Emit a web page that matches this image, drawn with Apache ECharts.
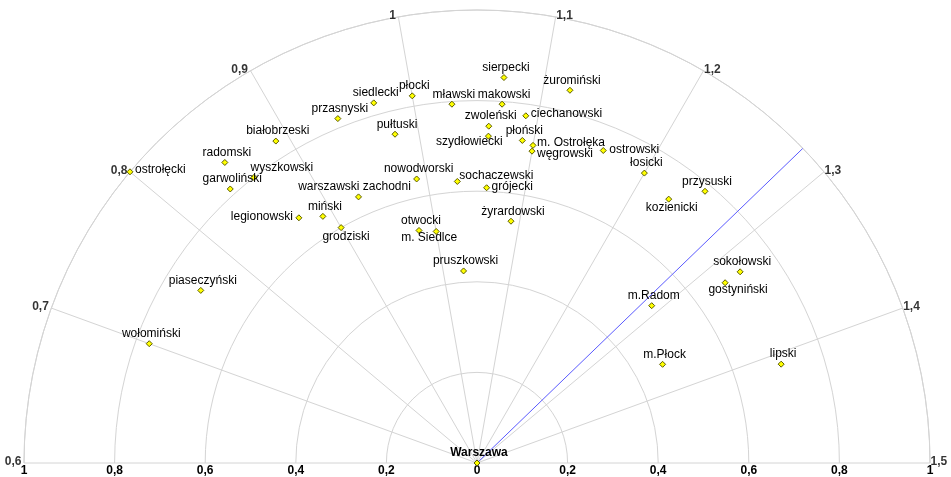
<!DOCTYPE html>
<html>
<head>
<meta charset="utf-8">
<script src="https://cdn.jsdelivr.net/npm/echarts@6/dist/echarts.min.js"></script>
<style>
  html, body { margin: 0; padding: 0; background: #fff; }
  #chart { width: 951px; height: 477px; }
</style>
</head>
<body>
<div id="chart"></div>
<script>
// Districts of the Mazowieckie voivodeship, placed on a half-polar diagram:
// angle = index value (0,6 … 1,5), radius = distance from Warszawa (0 … 1).
const districts = [
  'ostrołęcki', 'białobrzeski', 'radomski', 'wyszkowski', 'garwoliński',
  'legionowski', 'miński', 'grodziski', 'przasnyski', 'sierpecki',
  'żuromiński', 'siedlecki', 'płocki', 'mławski', 'makowski',
  'ciechanowski', 'zwoleński', 'szydłowiecki', 'pułtuski', 'płoński',
  'm. Ostrołęka', 'węgrowski', 'ostrowski', 'łosicki', 'nowodworski',
  'sochaczewski', 'grójecki', 'warszawski zachodni', 'otwocki', 'm. Siedlce',
  'żyrardowski', 'pruszkowski', 'przysuski', 'kozienicki', 'piaseczyński',
  'wołomiński', 'sokołowski', 'gostyniński', 'm.Radom', 'm.Płock',
  'lipski', 'Warszawa'
];
const angleValue = [
  0.80, 0.89, 0.85, 0.86, 0.84,
  0.87, 0.89, 0.90, 0.94, 1.07,
  1.12, 0.97, 1.00, 1.03, 1.07,
  1.09, 1.06, 1.06, 0.98, 1.09,
  1.10, 1.10, 1.16, 1.20, 0.99,
  1.03, 1.06, 0.93, 0.98, 1.00,
  1.09, 1.03, 1.25, 1.23, 0.76,
  0.70, 1.32, 1.32, 1.29, 1.36,
  1.41, 1.00
];
const radiusValue = [
  1.000, 0.838, 0.866, 0.800, 0.814,
  0.669, 0.642, 0.600, 0.820, 0.853,
  0.848, 0.827, 0.823, 0.794, 0.794,
  0.774, 0.744, 0.722, 0.748, 0.719,
  0.712, 0.699, 0.744, 0.739, 0.641,
  0.623, 0.608, 0.643, 0.529, 0.519,
  0.539, 0.425, 0.783, 0.720, 0.719,
  0.770, 0.718, 0.677, 0.519, 0.464,
  0.706, 0
];
// Reference direction drawn as a blue ray
const referenceAngle = 1.28;
// Tick values
const angleTicks = [0.6, 0.7, 0.8, 0.9, 1.0, 1.1, 1.2, 1.3, 1.4, 1.5];
const radiusTicks = [-1, -0.8, -0.6, -0.4, -0.2, 0, 0.2, 0.4, 0.6, 0.8, 1];

// Label placement for each district: [text align, x shift, y shift]
const labelPlacement = {
  'ostrołęcki': ['left', 5, -2],
  'ciechanowski': ['left', 5, -2],
  'm. Ostrołęka': ['left', 4, -3],
  'węgrowski': ['left', 5, 3],
  'ostrowski': ['left', 6, -1],
  'sochaczewski': ['left', 2, -6],
  'grójecki': ['left', 5, -1],
  'legionowski': ['right', -6, -1],
  'wyszkowski': ['center', 28, -10],
  'warszawski zachodni': ['center', -4, -10],
  'grodziski': ['center', 5, 9],
  'kozienicki': ['center', 3, 9],
  'gostyniński': ['center', 13, 7],
  'szydłowiecki': ['center', -19, 6],
  'm. Siedlce': ['center', -7, 6]
};

const FONT = '"Liberation Sans", Arial, Helvetica, sans-serif';
const GRID = '#d4d4d4';
const fmt = v => {
  const s = String(+Math.abs(v).toFixed(1));
  return s.replace('.', ',');
};

const pointData = districts.map((name, i) => {
  const p = labelPlacement[name] || ['center', 2, -10];
  const item = {
    name: name,
    value: [radiusValue[i], angleValue[i]],
    label: { align: p[0], offset: [p[1], p[2]] }
  };
  if (name === 'Warszawa') item.label.fontWeight = 'bold';
  return item;
});

const tickData = angleTicks.map(v => ({
  value: [1, v],
  label: v < 1.05
    ? { position: 'left', distance: 2 }
    : { position: 'right', distance: 0 }
}));

const chart = echarts.init(document.getElementById('chart'), null, { renderer: 'canvas' });
chart.setOption({
  backgroundColor: '#ffffff',
  animation: false,
  polar: { center: [477, 463], radius: 453 },
  angleAxis: {
    type: 'value',
    min: 0.6,
    max: 1.5,
    interval: 0.1,
    startAngle: 180,
    endAngle: 0,
    clockwise: true,
    axisLine: { show: true, lineStyle: { color: GRID, width: 1 } },
    axisTick: { show: false },
    axisLabel: { show: false },
    splitLine: { show: true, lineStyle: { color: GRID, width: 1 } }
  },
  radiusAxis: {
    type: 'value',
    min: 0,
    max: 1,
    interval: 0.2,
    axisLine: { show: false },
    axisTick: { show: false },
    axisLabel: { show: false },
    splitLine: { show: true, lineStyle: { color: GRID, width: 1 } }
  },
  grid: { left: 24, top: 10, width: 906, height: 453 },
  xAxis: {
    type: 'value',
    min: radiusTicks[0],
    max: radiusTicks[radiusTicks.length - 1],
    interval: 0.2,
    axisLine: { show: false },
    axisTick: { show: false },
    splitLine: { show: false },
    axisLabel: {
      show: true,
      showMinLabel: true,
      showMaxLabel: true,
      margin: 2,
      color: '#000',
      fontFamily: FONT,
      fontSize: 12,
      fontWeight: 'bold',
      formatter: fmt
    }
  },
  yAxis: { type: 'value', show: false, min: 0, max: 1 },
  series: [
    {
      type: 'line',
      coordinateSystem: 'polar',
      data: [[0, referenceAngle], [1, referenceAngle]],
      symbol: 'none',
      silent: true,
      lineStyle: { color: '#5a5aff', width: 1 },
      z: 2
    },
    {
      type: 'scatter',
      coordinateSystem: 'polar',
      data: tickData,
      symbolSize: 1,
      itemStyle: { color: 'rgba(0,0,0,0)' },
      silent: true,
      label: {
        show: true,
        offset: [0, -1],
        color: '#000',
        fontFamily: FONT,
        fontSize: 12,
        fontWeight: 'bold',
        formatter: p => fmt(p.value[1])
      },
      z: 3
    },
    {
      type: 'scatter',
      coordinateSystem: 'polar',
      data: pointData,
      symbol: 'diamond',
      symbolSize: 6,
      itemStyle: { color: '#ffff00', borderColor: '#5c5c00', borderWidth: 1, opacity: 1 },
      label: {
        show: true,
        position: 'inside',
        color: '#000',
        fontFamily: FONT,
        fontSize: 12,
        formatter: p => p.name
      },
      z: 4
    }
  ]
});
</script>
</body>
</html>
